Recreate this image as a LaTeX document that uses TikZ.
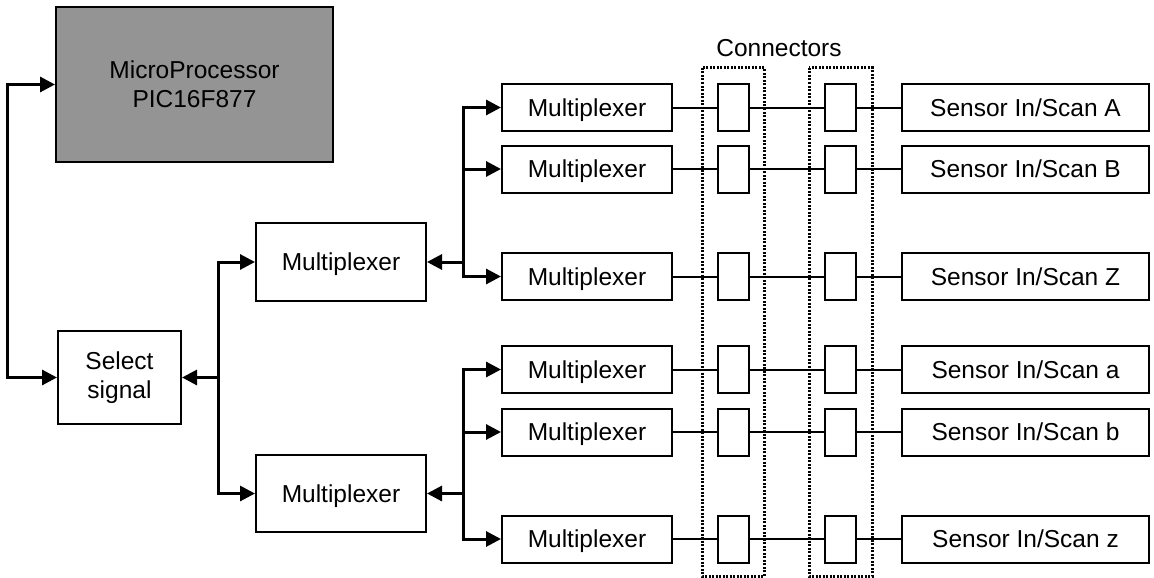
\documentclass[tikz,border=0pt]{standalone}
\usepackage{fontspec}
\setmainfont{Liberation Sans}
\usetikzlibrary{arrows.meta}
\begin{document}
\begin{tikzpicture}[x=1pt,y=-1pt,
  every node/.style={font=\fontsize{24.5}{29}\selectfont, inner sep=0pt},
  blk/.style={draw, line width=2pt, align=center},
  onel/.style={text depth=0pt},
  mux/.style={blk, onel, minimum width=170pt, minimum height=47pt},
  conbox/.style={blk, minimum width=31pt, minimum height=47pt},
  sensbox/.style={blk, onel, minimum width=247pt, minimum height=47pt},
  bus/.style={line width=3pt},
  wire/.style={line width=2pt},
  tip/.tip={Triangle[length=15pt,width=15pt]},
  dotbox/.style={line width=3pt, dash pattern=on 2pt off 1.5pt}
]
\useasboundingbox (0,0) rectangle (1154,578);

% main blocks
\node[blk, fill=black!42, minimum width=277pt, minimum height=155pt] (mp) at (194.5,84.5) {MicroProcessor\\PIC16F877};
\node[blk, minimum width=123pt, minimum height=93pt] (sel) at (119.5,377.5) {Select\\signal};
\node[blk, onel, minimum width=170pt, minimum height=78pt] (mt) at (341,262) {Multiplexer};
\node[blk, onel, minimum width=170pt, minimum height=77pt] (mb) at (341,493.5) {Multiplexer};

% dotted connector groups
\draw[dotbox] (702,68) rectangle (764,576);
\draw[dotbox] (809,68) rectangle (872,576);
\node (conlab) at (779,48) {Connectors};

% rows
\foreach \n/\yy/\lab in {rA/107.5/A, rB/169/B, rZ/276.5/Z, ra/369.5/a, rb/432/b, rz/539/z}{
  \node[mux] (\n m) at (587,\yy) {Multiplexer};
  \node[conbox] (\n c1) at (733.5,\yy) {};
  \node[conbox] (\n c2) at (840.5,\yy) {};
  \node[sensbox] (\n s) at (1025.5,\yy) {Sensor In/Scan \lab};
  \draw[wire] (\n m.east) -- (\n c1.west);
  \draw[wire] (\n c1.east) -- (\n c2.west);
  \draw[wire] (\n c2.east) -- (\n s.west);
}

% left loop between microprocessor and select signal
\draw[bus, {tip}-{tip}] (mp.west) -- ++(-48,0) |- (sel.west);

% select signal to multiplexers
\coordinate (j1) at (218,377.5);
\draw[bus, {tip}-] (sel.east) -- (j1);
\draw[bus, -{tip}] (j1) |- (mt.west);
\draw[bus, -{tip}] (j1) |- (mb.west);

% top group bus
\coordinate (j2) at (463,262);
\draw[bus, {tip}-] (mt.east) -- (j2);
\draw[bus, -{tip}] (j2) |- (rAm.west);
\draw[bus, -{tip}] (j2) |- (rBm.west);
\draw[bus, -{tip}] (j2) |- (rZm.west);

% bottom group bus
\coordinate (j3) at (463,493.5);
\draw[bus, {tip}-] (mb.east) -- (j3);
\draw[bus, -{tip}] (j3) |- (ram.west);
\draw[bus, -{tip}] (j3) |- (rbm.west);
\draw[bus, -{tip}] (j3) |- (rzm.west);
\end{tikzpicture}
\end{document}
